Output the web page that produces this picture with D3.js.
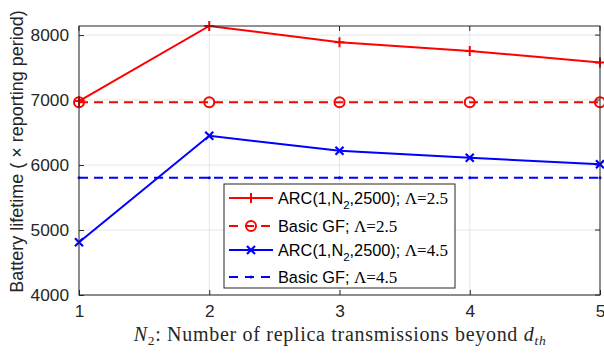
<!DOCTYPE html>
<html><head><meta charset="utf-8">
<script src="https://cdn.jsdelivr.net/npm/d3@7"></script>
<style>body{margin:0;background:#fff}svg{display:block}</style>
</head><body>
<script>
const xValues = [1, 2, 3, 4, 5];
const arc25 = [6985, 8140, 7890, 7757, 7577];
const basic25 = [6965, 6965, 6965, 6965, 6965];
const arc45 = [4811, 6450, 6220, 6113, 6011];
const basic45 = [5803, 5803, 5803, 5803, 5803];
const yTicks = [4000, 5000, 6000, 7000, 8000];
const xTicks = [1, 2, 3, 4, 5];
const legendNames = ["ARC", "Basic GF; ", "ARC", "Basic GF; "];
const legendLambda = ["\u039B=2.5", "\u039B=2.5", "\u039B=4.5", "\u039B=4.5"];

const W = 604, H = 354;
const m = {l: 79, r: 4, t: 26, b: 59};
const svg = d3.select("body").append("svg").attr("width", W).attr("height", H);
const x = d3.scaleLinear().domain([1, 5]).range([m.l, W - m.r]);
const y = d3.scaleLinear().domain([4000, 8140]).range([H - m.b, m.t]);
const font = "Liberation Sans, Arial, sans-serif";
const serif = "Liberation Serif, DejaVu Serif, serif";

// grid
const g = svg.append("g");
g.selectAll(".gx").data(xTicks).join("line")
  .attr("x1", d => x(d)).attr("x2", d => x(d)).attr("y1", m.t).attr("y2", H - m.b)
  .attr("stroke", "#e6e6e6").attr("stroke-width", 1);
g.selectAll(".gy").data(yTicks).join("line")
  .attr("y1", d => y(d)).attr("y2", d => y(d)).attr("x1", m.l).attr("x2", W - m.r)
  .attr("stroke", "#e6e6e6").attr("stroke-width", 1);

// axes
const xAxis = d3.axisBottom(x).tickValues(xTicks).tickSize(-5).tickPadding(10).tickFormat(d3.format("d"));
const yAxis = d3.axisLeft(y).tickValues(yTicks).tickSize(-5).tickPadding(10).tickFormat(d3.format("d"));
const ax = svg.append("g").attr("transform", `translate(0,${H - m.b})`).call(xAxis);
const ay = svg.append("g").attr("transform", `translate(${m.l},0)`).call(yAxis);
[ax, ay].forEach(a => {
  a.select(".domain").remove();
  a.selectAll(".tick line").attr("stroke", "#262626");
  a.selectAll(".tick text").attr("font-family", font).attr("font-size", 17.3).attr("fill", "#262626");
});
// top ticks & right ticks
svg.append("g").selectAll("line").data(xTicks).join("line")
  .attr("x1", d => x(d)).attr("x2", d => x(d)).attr("y1", m.t).attr("y2", m.t + 5).attr("stroke", "#262626");
svg.append("g").selectAll("line").data(yTicks).join("line")
  .attr("x1", W - m.r).attr("x2", W - m.r - 5).attr("y1", d => y(d)).attr("y2", d => y(d)).attr("stroke", "#262626");

const line = d3.line().x((d, i) => x(xValues[i])).y(d => y(d));
const series = [
  {data: arc25, color: "#ff0000", dash: null, marker: "plus"},
  {data: basic25, color: "#ff0000", dash: "9,6", marker: "circle"},
  {data: arc45, color: "#0000ff", dash: null, marker: "x"},
  {data: basic45, color: "#0000ff", dash: "9,6", marker: "dot"}
];
const clipId = "clip";
svg.append("clipPath").attr("id", clipId).append("rect")
  .attr("x", m.l - 8).attr("y", m.t - 8).attr("width", W - m.l - m.r + 16).attr("height", H - m.t - m.b + 16);

function drawMarker(sel, type, cx, cy, color) {
  if (type === "plus") {
    sel.append("path").attr("d", `M${cx-5},${cy}H${cx+5}M${cx},${cy-5}V${cy+5}`).attr("stroke", color).attr("stroke-width", 2).attr("fill", "none");
  } else if (type === "circle") {
    sel.append("circle").attr("cx", cx).attr("cy", cy).attr("r", 5).attr("stroke", color).attr("stroke-width", 2).attr("fill", "none");
  } else if (type === "x") {
    sel.append("path").attr("d", `M${cx-4},${cy-4}L${cx+4},${cy+4}M${cx-4},${cy+4}L${cx+4},${cy-4}`).attr("stroke", color).attr("stroke-width", 2.2).attr("fill", "none");
  } else if (type === "dot") {
    sel.append("circle").attr("cx", cx).attr("cy", cy).attr("r", 1.5).attr("fill", color);
  }
}

const plot = svg.append("g").attr("clip-path", `url(#${clipId})`);
series.forEach(s => {
  plot.append("path").datum(s.data).attr("d", line).attr("fill", "none")
    .attr("stroke", s.color).attr("stroke-width", 2).attr("stroke-dasharray", s.dash);
  s.data.forEach((v, i) => drawMarker(plot, s.marker, x(xValues[i]), y(v), s.color));
});

// box
svg.append("rect").attr("x", m.l).attr("y", m.t).attr("width", W - m.l - m.r).attr("height", H - m.t - m.b)
  .attr("fill", "none").attr("stroke", "#262626").attr("stroke-width", 1);

// legend
const lg = svg.append("g");
lg.append("rect").attr("x", 224).attr("y", 184).attr("width", 231).attr("height", 104)
  .attr("fill", "#fff").attr("stroke", "#262626").attr("stroke-width", 1);
const rowsY = [198, 226, 250, 277];
series.forEach((s, i) => {
  const yy = rowsY[i];
  lg.append("line").attr("x1", 229).attr("x2", 273).attr("y1", yy).attr("y2", yy)
    .attr("stroke", s.color).attr("stroke-width", 2).attr("stroke-dasharray", s.dash ? "9,7" : null);
  drawMarker(lg, s.marker, 251, yy, s.color);
  const t = lg.append("text").attr("x", 278).attr("y", yy + 6).attr("font-family", font).attr("font-size", 16.3).attr("fill", "#000");
  if (i % 2 === 0) {
    t.append("tspan").text("ARC(1,N");
    t.append("tspan").attr("font-size", 11.5).attr("dy", 5).text("2");
    t.append("tspan").attr("dy", -5).text(",2500); ");
  } else {
    t.append("tspan").text(legendNames[i]);
  }
  t.append("tspan").attr("font-family", serif).attr("font-size", 17).text(legendLambda[i]);
});

// y label
svg.append("text").attr("transform", `translate(23,${(m.t + H - m.b) / 2 - 9}) rotate(-90)`)
  .attr("text-anchor", "middle").attr("font-family", font).attr("font-size", 18).attr("fill", "#262626")
  .text("Battery lifetime ( \u00D7 reporting period)");

// x label
const xl = svg.append("text").attr("x", 340).attr("y", 341).attr("text-anchor", "middle")
  .attr("font-family", serif).attr("font-size", 20).attr("letter-spacing", 0.7).attr("fill", "#262626");
xl.append("tspan").attr("font-style", "italic").text("N");
xl.append("tspan").attr("font-size", 13.5).attr("dy", 4).text("2");
xl.append("tspan").attr("dy", -4).text(": Number of replica transmissions beyond ");
xl.append("tspan").attr("font-style", "italic").text("d");
xl.append("tspan").attr("font-style", "italic").attr("font-size", 13.5).attr("dy", 4).text("th");
</script>
</body></html>
